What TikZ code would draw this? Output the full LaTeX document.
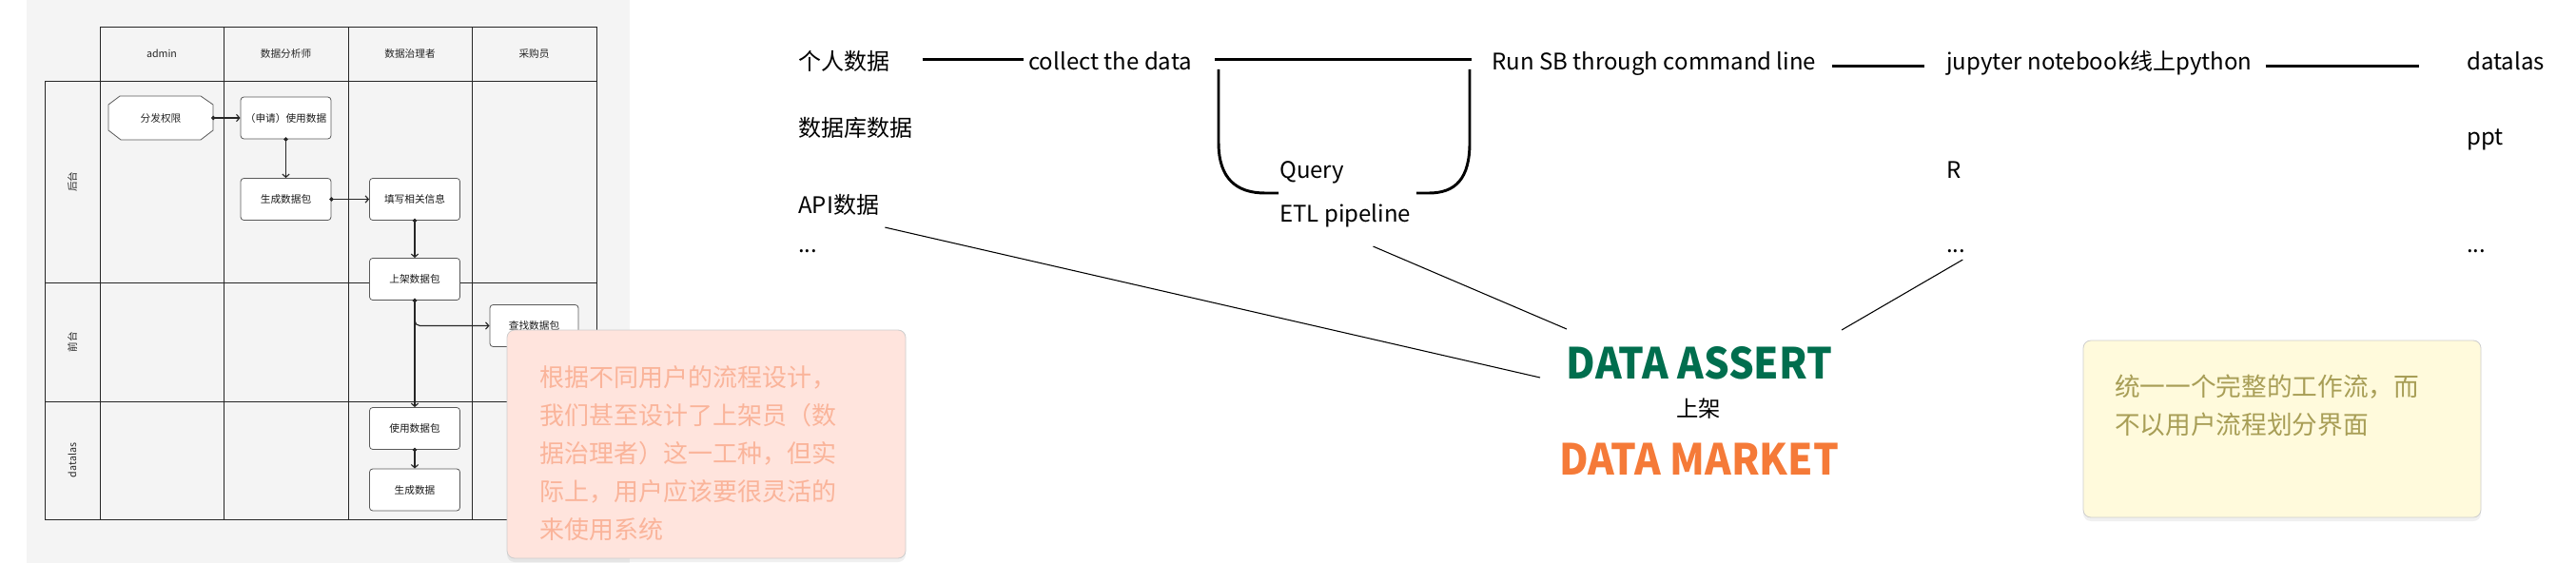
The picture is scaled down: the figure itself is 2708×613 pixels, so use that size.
\documentclass[tikz,border=0pt]{standalone}
\usepackage{fontspec}
\newfontfamily\cjk{Noto Sans CJK SC}
\usetikzlibrary{arrows.meta,shadows,calc}
\newdimen\pxu \pxu=0.75pt
\definecolor{panel}{RGB}{244,244,244}
\definecolor{pinkfill}{RGB}{255,228,221}
\definecolor{pinktext}{RGB}{250,180,154}
\definecolor{yelfill}{RGB}{255,250,220}
\definecolor{yeltext}{RGB}{168,158,86}
\definecolor{notebord}{RGB}{205,205,205}
\definecolor{dagreen}{RGB}{0,110,78}
\definecolor{dmorange}{RGB}{245,122,56}
\tikzset{
  gridline/.style={draw=black!85, line width=0.6pt},
  cell/.style={font=\cjk\fontsize{8}{10}\selectfont, text=black!85, inner sep=0pt},
  lanebox/.style={draw=black!65, line width=0.6pt, fill=white, rounded corners=2.5pt,
    minimum width=95\pxu, minimum height=44\pxu, inner sep=0pt,
    font=\cjk\fontsize{8}{10}\selectfont, text=black!90},
  flow/.style={draw=black!85, line width=0.85pt, shorten <=-1.6pt,
    {Circle[length=3.2pt]}-{Straight Barb[length=2.5pt,width=5.5pt]}},
  txt/.style={font=\cjk\fontsize{18}{22}\selectfont, inner sep=0pt, anchor=base west,
    text height=14.4pt, text depth=3.6pt},
  bar/.style={line width=2.2pt},
  thinline/.style={line width=0.8pt},
  bigword/.style={font=\cjk\bfseries\fontsize{31.5}{36}\selectfont, inner sep=0pt, yscale=1.07, transform shape},
  note/.style={rounded corners=6pt, line width=0.6pt, draw=notebord,
    drop shadow={shadow xshift=0pt, shadow yshift=-3pt, opacity=0.06, fill=black}},
  notetxt/.style={inner sep=0pt, align=left, anchor=north west}
}
\begin{document}
\begin{tikzpicture}[x=\pxu, y=-\pxu]
\useasboundingbox (0,0) rectangle (2708,613);
\fill[white] (0,0) rectangle (2708,613);

% ---------- swimlane panel ----------
\fill[panel] (28,0) rectangle (662,592);
\draw[gridline] (105,28) rectangle (627,85);
\draw[gridline] (47,85) rectangle (627,546);
\foreach \xx in {105,235,366,496} \draw[gridline] (\xx,28) -- (\xx,546);
\foreach \yy in {297,422} \draw[gridline] (47,\yy) -- (627,\yy);

\node[cell] (h1) at (170,56.5) {admin};
\node[cell] (h2) at (300.5,56.5) {数据分析师};
\node[cell] (h3) at (431,56.5) {数据治理者};
\node[cell] (h4) at (561.5,56.5) {采购员};
\node[cell, rotate=90] (r1) at (76,191) {后台};
\node[cell, rotate=90] (r2) at (76,359.5) {前台};
\node[cell, rotate=90] (r3) at (76,484) {datalas};

% octagon
\draw[draw=black!65, line width=0.6pt, fill=white]
  (126,101) -- (211,101) -- (224,110) -- (224,137) -- (211,147) -- (127,147) -- (114,137) -- (114,110) -- cycle;
\node[cell, minimum width=110\pxu, minimum height=46\pxu] (oct) at (169,124) {分发权限};

\node[lanebox] (b1) at (300.5,124) {（申请）使用数据};
\node[lanebox] (b2) at (300.5,209.5) {生成数据包};
\node[lanebox] (b3) at (436,209.5) {填写相关信息};
\node[lanebox] (b4) at (436,293.5) {上架数据包};
\node[lanebox, minimum width=93\pxu] (b5) at (561.5,342.5) {查找数据包};
\node[lanebox] (b6) at (436,450.5) {使用数据包};
\node[lanebox] (b7) at (436,515) {生成数据};

\draw[flow] (oct.east) -- (b1.west);
\draw[flow] (b1.south) -- (b2.north);
\draw[flow] (b2.east) -- (b3.west);
\draw[flow] (b3.south) -- (b4.north);
\draw[flow] (b4.south) -- (b6.north);
\draw[flow, rounded corners=4pt] (b4.south) |- (b5.west);
\draw[flow] (b6.south) -- (b7.north);

% pink note
\node[note, fill=pinkfill, minimum width=419\pxu, minimum height=240\pxu] (pn) at (742.5,467) {};
\node[notetxt, font=\cjk\fontsize{19.5}{30}\selectfont, text=pinktext] (pnt) at (567,384)
  {根据不同用户的流程设计，\\我们甚至设计了上架员（数\\据治理者）这一工种，但实\\际上，用户应该要很灵活的\\来使用系统};

% ---------- data flow ----------
\node[txt] (t1) at (839,74) {个人数据};
\node[txt] (t2) at (839,144) {数据库数据};
\node[txt] (t3) at (839,224) {API数据};
\node[txt] (t4) at (839,265) {...};
\node[txt] (col) at (1081,74) {collect the data};
\node[txt] (qry) at (1345,188) {Query};
\node[txt] (etl) at (1345,233) {ETL pipeline};
\node[txt] (run) at (1568,74) {Run SB through command line};
\node[txt] (jup) at (2046,74) {jupyter notebook线上python};
\node[txt] (rr) at (2046,188) {R};
\node[txt] (rdots) at (2046,265) {...};
\node[txt] (dl) at (2593,74) {datalas};
\node[txt] (ppt) at (2593,153) {ppt};
\node[txt] (pdots) at (2593,265) {...};

\draw[bar] ([xshift=34\pxu, yshift=4\pxu]t1.east) -- ([xshift=-5\pxu, yshift=4\pxu]col.west);
\draw[bar] ([xshift=24\pxu, yshift=4\pxu]col.east) -- ([xshift=-21\pxu, yshift=4\pxu]run.west);
\draw[bar] ([xshift=16\pxu, yshift=-3\pxu]run.east) -- ([xshift=-23\pxu, yshift=-3\pxu]jup.west);
\draw[bar] ([xshift=14\pxu, yshift=-3\pxu]jup.east) -- ([xshift=-50\pxu, yshift=-3\pxu]dl.west);

% U bracket around Query
\draw[bar] (1281,73) -- (1281,150) .. controls (1281,188) and (1300,203) .. (1330,203) -- (1344,203);
\draw[bar] (1489,203) -- (1502,203) .. controls (1530,203) and (1545,188) .. (1545,150) -- (1545,73);

\node[bigword, text=dagreen] (da) at (1786.5,381.5) {DATA ASSERT};
\node[font=\cjk\fontsize{17.5}{20}\selectfont, inner sep=0pt] (sj) at (1785.5,430) {上架};
\node[bigword, text=dmorange] (dm) at (1786,483) {DATA MARKET};

\coordinate (apiend) at (1619,397);
\coordinate (etlend) at (1647,346);
\coordinate (rend) at (1936,347);
\draw[thinline] ([xshift=6\pxu, yshift=-10\pxu]t3.south east) -- (apiend);
\draw[thinline] ([xshift=-40\pxu, yshift=-21\pxu]etl.south east) -- (etlend);
\draw[thinline] ([xshift=7\pxu, yshift=-3\pxu]rdots.south) -- (rend);

% yellow note
\node[note, fill=yelfill, minimum width=418\pxu, minimum height=186\pxu] (yn) at (2399,451) {};
\node[notetxt, font=\cjk\fontsize{20}{30}\selectfont, text=yeltext] (ynt) at (2223,394)
  {统一一个完整的工作流，而\\不以用户流程划分界面};
\end{tikzpicture}
\end{document}
